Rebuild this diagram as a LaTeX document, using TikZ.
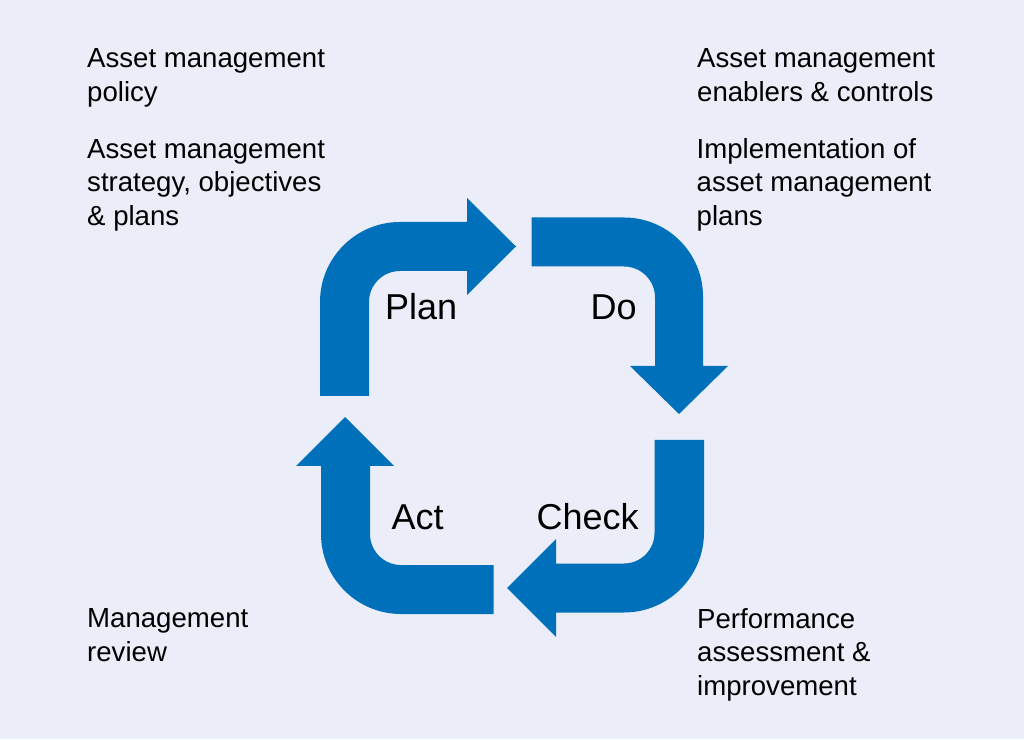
\documentclass[tikz,border=0pt]{standalone}
\usepackage{fontspec}
\setmainfont{Liberation Sans}
\definecolor{bgcol}{RGB}{235,238,248}
\definecolor{arrowblue}{RGB}{0,112,186}
\tikzset{
  cycarrow/.style={fill=arrowblue, draw=none},
  sidetext/.style={anchor=base west, inner sep=0pt, align=left, font=\fontsize{27.6pt}{33.5pt}\selectfont},
  phaselabel/.style={anchor=base west, inner sep=0pt, font=\fontsize{36pt}{43pt}\selectfont}
}
\begin{document}
\begin{tikzpicture}[x=1pt,y=1pt]
\fill[bgcol] (0,0) rectangle (1024,739);
\useasboundingbox (0,0) rectangle (1024,739);
% Plan arrow
\path[cycarrow] (320,343) -- (320,437) arc[start angle=180,end angle=90,radius=80]
  -- (467,517) -- (467,541) -- (516,492.5) -- (467,444) -- (467,468) -- (400,468)
  arc[start angle=90,end angle=180,radius=31] -- (369,343) -- cycle;
% Do arrow
\path[cycarrow] (531.5,521.5) -- (624,521.5) arc[start angle=90,end angle=0,radius=79]
  -- (703,373) -- (728,373) -- (679,325) -- (630,373) -- (655,373) -- (655,441.5)
  arc[start angle=0,end angle=90,radius=31] -- (531.5,472.5) -- cycle;
% Check arrow
\path[cycarrow] (654.5,299) -- (704,299) -- (704,206.5) arc[start angle=0,end angle=-90,radius=80]
  -- (556,126.5) -- (556,102) -- (507,151) -- (556,200) -- (556,175.5) -- (624,175.5)
  arc[start angle=-90,end angle=0,radius=30.5] -- cycle;
% Act arrow
\path[cycarrow] (493.5,125) -- (401,125) arc[start angle=-90,end angle=-180,radius=80]
  -- (321,273) -- (296,273) -- (345,322) -- (394,273) -- (370,273) -- (370,205)
  arc[start angle=180,end angle=270,radius=31] -- (493.5,174) -- cycle;
% phase labels
\node[phaselabel] (plan) at (385,419) {Plan};
\node[phaselabel] (do) at (590.5,419) {Do};
\node[phaselabel] (check) at (536.5,209.7) {Check};
\node[phaselabel] (act) at (391.5,209.7) {Act};
% side texts (anchor = baseline of last line)
\node[sidetext] (policy) at (87,637.5) {Asset management\\policy};
\node[sidetext] (strategy) at (87,513.7) {Asset management\\strategy, objectives\\\& plans};
\node[sidetext] (enablers) at (697,637.5) {Asset management\\enablers \& controls};
\node[sidetext] (implement) at (696.5,513.7) {Implementation of\\asset management\\plans};
\node[sidetext] (review) at (87,77.8) {Management\\review};
\node[sidetext] (perf) at (697,43.7) {Performance\\assessment \&\\improvement};
\end{tikzpicture}
\end{document}
